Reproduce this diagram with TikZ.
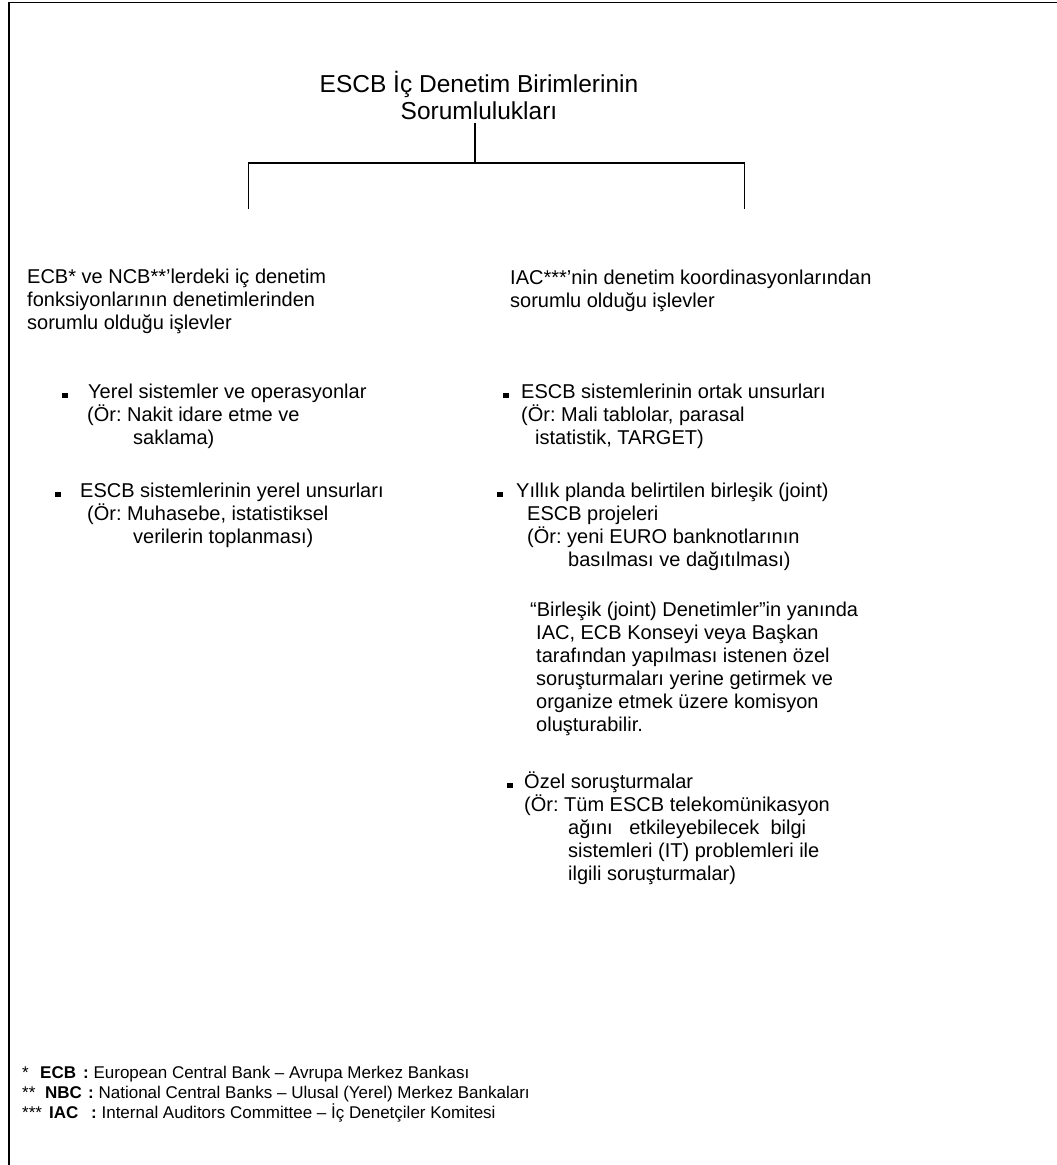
\documentclass[tikz,border=0pt]{standalone}
\usepackage{fontspec}
\setmainfont{Liberation Sans}
\usepackage{xcolor}
\usepackage{tikz}
\usetikzlibrary{positioning}
\newcommand{\sqbul}{\rule{5.5pt}{5.5pt}}
\frenchspacing
\tikzset{%
  % Specifications for style of nodes:
  textline/.style = {inner sep=0pt, anchor=base west, align=left},
  headline/.style = {textline, font=\fontsize{20}{23}\selectfont},
  itembox/.style = {textline, font=\fontsize{20}{23}\selectfont},
  footline/.style = {textline, font=\fontsize{17}{20}\selectfont},
  branch/.style = {line width=1.2pt},
}

\begin{document}
\begin{tikzpicture}[x=1pt, y=-1pt]
        \useasboundingbox (0,0) rectangle (1057,1165);
        % frame
        \draw[line width=1.5pt] (9,1165) |- (1057,2.5);
        % Specification of nodes (position, etc.)
        \node(Resp)[inner sep=3.5pt, anchor=base, align=center,
          font=\fontsize{24.5}{27}\selectfont] at (479,119)
          {ESCB İç Denetim Birimlerinin\\Sorumlulukları};
        \node(Ecbhead)[headline] at (27,329){ECB* ve NCB**’lerdeki iç denetim\\
          fonksiyonlarının denetimlerinden\\sorumlu olduğu işlevler};
        \node(Iachead)[headline] at (510,307){IAC***’nin denetim koordinasyonlarından\\
          sorumlu olduğu işlevler};
        \node(Localsys)[itembox] at (62,444){\sqbul\hspace*{20.5pt}Yerel sistemler ve operasyonlar\\
          \hspace*{25pt}(Ör: Nakit idare etme ve\\\hspace*{71pt}saklama)};
        \node(Localpart)[itembox] at (55,543){\sqbul\hspace*{19.5pt}ESCB sistemlerinin yerel unsurları\\
          \hspace*{32pt}(Ör: Muhasebe, istatistiksel\\\hspace*{78pt}verilerin toplanması)};
        \node(Commonpart)[itembox] at (503,444){\sqbul\hspace*{12.5pt}ESCB sistemlerinin ortak unsurları\\
          \hspace*{18pt}(Ör: Mali tablolar, parasal\\\hspace*{32pt}istatistik, TARGET)};
        \node(Jointproj)[itembox] at (497,566){\sqbul\hspace*{13.5pt}Yıllık planda belirtilen birleşik (joint)\\
          \hspace*{30pt}ESCB projeleri\\\hspace*{30pt}(Ör: yeni EURO banknotlarının\\
          \hspace*{71pt}basılması ve dağıtılması)};
        \node(Jointnote)[itembox] at (530,731){“Birleşik (joint) Denetimler”in yanında\\
          \hspace*{6pt}IAC, ECB Konseyi veya Başkan\\\hspace*{6pt}tarafından yapılması istenen özel\\
          \hspace*{6pt}soruşturmaları yerine getirmek ve\\\hspace*{6pt}organize etmek üzere komisyon\\
          \hspace*{6pt}oluşturabilir.};
        \node(Special)[itembox] at (507,880){\sqbul\hspace*{11.5pt}Özel soruşturmalar\\
          \hspace*{17pt}(Ör: Tüm ESCB telekomünikasyon\\\hspace*{61pt}ağını\ \ \ etkileyebilecek\ \ bilgi\\
          \hspace*{61pt}sistemleri (IT) problemleri ile\\\hspace*{61pt}ilgili soruşturmalar)};
        \node(Footecb)[footline] at (22,1078){\makebox[18pt][l]{*}\makebox[43pt][l]{\textbf{ECB}}\textbf{:}
          European Central Bank – Avrupa Merkez Bankası};
        \node(Footncb)[footline] at (22,1098){\makebox[23pt][l]{**}\makebox[43pt][l]{\textbf{NBC}}\textbf{:}
          National Central Banks – Ulusal (Yerel) Merkez Bankaları};
        \node(Footiac)[footline] at (22,1118){\makebox[27pt][l]{***}\makebox[42pt][l]{\textbf{IAC}}\textbf{:}
          Internal Auditors Committee – İç Denetçiler Komitesi};
        \coordinate(Fork) at (475,163);
        \coordinate(Lefttip) at (248.5,209);
        \coordinate(Righttip) at (744.5,209);
        \draw[branch](Fork |- Resp.south) -- (Fork);
        \draw[branch](Lefttip) |- (Fork) -| (Righttip);
    \end{tikzpicture}
\end{document}
